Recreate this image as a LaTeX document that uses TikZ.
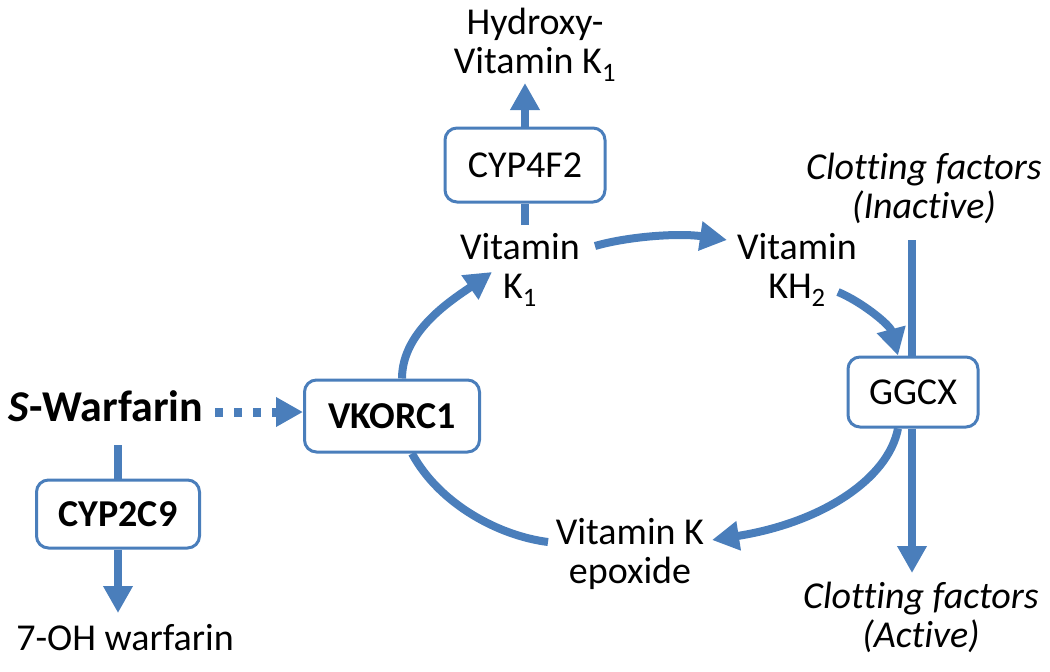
\documentclass[tikz,border=0pt]{standalone}
\usepackage{fontspec}
\setmainfont[Ligatures=NoCommon]{Carlito}
\usetikzlibrary{arrows.meta}
\definecolor{vblue}{RGB}{74,126,187}
\begin{document}
\begin{tikzpicture}[x=1pt,y=-1pt,
  lbl/.style={font=\fontsize{38}{39}\selectfont, inner sep=0pt, align=center},
  enz/.style={draw=vblue, line width=3pt, rounded corners=12pt, fill=white, inner sep=0pt, align=center},
  flow/.style={draw=vblue, line width=8pt},
  tip/.style={-{Triangle[length=27pt,width=28pt]}},
]
\useasboundingbox (0,0) rectangle (1050,672);

% labels
\node[lbl] (hyd) at (535,45) {Hydroxy-\\Vitamin K\textsubscript{1}};
\node[lbl] (vk1) at (520,270) {Vitamin\\K\textsubscript{1}};
\node[lbl] (vkh2) at (797,270) {Vitamin\\KH\textsubscript{2}};
\node[lbl, font=\fontsize{38}{39}\selectfont\itshape] (cfi) at (924,188) {Clotting factors\\(Inactive)};
\node[lbl, font=\fontsize{38}{39}\selectfont\itshape] (cfa) at (921,617) {Clotting factors\\(Active)};
\node[lbl] (vke) at (630,554) {Vitamin K\\epoxide};
\node[lbl, font=\fontsize{44}{46}\selectfont\bfseries] (sw) at (106,406) {\textit{S}-Warfarin};
\node[lbl] (oh) at (125,638) {7-OH warfarin};

% enzyme boxes
\node[enz, font=\fontsize{38}{39}\selectfont, minimum width=160pt, minimum height=74pt] (cyp4) at (525,165) {CYP4F2};
\node[enz, font=\fontsize{38}{39}\selectfont, minimum width=130pt, minimum height=70pt] (ggcx) at (913,392) {GGCX};
\node[enz, font=\fontsize{38}{39}\selectfont\bfseries, minimum width=175pt, minimum height=72pt] (vkorc) at (392,416) {VKORC1};
\node[enz, font=\fontsize{38}{39}\selectfont\bfseries, minimum width=163pt, minimum height=68pt] (cyp2) at (118,514) {CYP2C9};

% free ends near text labels
\coordinate (vk1up) at (525,225);
\coordinate (hydlow) at (525,83);
\coordinate (vk1E) at (595,246);
\coordinate (vkh2W) at (727,240);
\coordinate (kh2S) at (838,292);
\coordinate (cfiB) at (912,240);
\coordinate (cfaT) at (912,573);
\coordinate (vkeE) at (712,540);
\coordinate (vkeW) at (548,542);
\coordinate (vk1SW) at (492,272);
\coordinate (swE) at (215,412);
\coordinate (swS) at (118,445);
\coordinate (ohN) at (118,613);

% connectors
\draw[flow] (vk1up) -- (cyp4.south);
\draw[flow,tip] (cyp4.north) -- (hydlow);
\draw[flow,tip] (vk1E) .. controls (630,236) and (680,233) .. (vkh2W);
\draw[flow,tip] (kh2S) .. controls (862,302) and (890,325) .. ([xshift=-15pt]ggcx.north);
\draw[flow] (cfiB) -- (cfiB |- ggcx.north);
\draw[flow,tip] (cfiB |- ggcx.south) -- (cfaT);
\draw[flow,tip] ([xshift=-15pt]ggcx.south) .. controls (888,480) and (820,523) .. (vkeE);
\draw[flow] ([xshift=20pt]vkorc.south) .. controls (440,505) and (500,536) .. (vkeW);
\draw[flow,tip] ([xshift=10pt]vkorc.north) .. controls (402,330) and (455,298) .. (vk1SW);
\draw[flow,tip,line width=9pt,dash pattern=on 8pt off 11pt] (swE) -- (vkorc.west |- swE);
\draw[flow] (swS) -- (cyp2.north);
\draw[flow,tip] (cyp2.south) -- (ohN);
\end{tikzpicture}
\end{document}
